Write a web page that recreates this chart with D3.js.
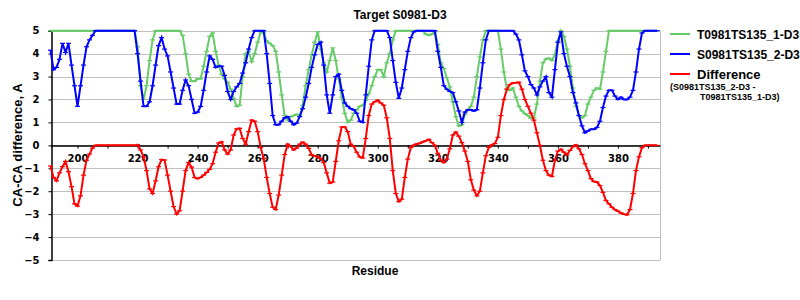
<!DOCTYPE html>
<html>
<head>
<meta charset="utf-8">
<script src="https://cdn.jsdelivr.net/npm/d3@7"></script>
<style>
  body { margin: 0; background: #fff; }
  text { font-family: "Liberation Sans", Arial, sans-serif; font-weight: bold; }
  .tick text { font-family: "DejaVu Sans", Verdana, sans-serif; font-size: 10px; fill: #000; }
</style>
</head>
<body>
<div id="chart"></div>
<script>
// residues 191..393, one value per residue
var firstResidue = 191;
var xTicks = [200, 210, 220, 230, 240, 250, 260, 270, 280, 290, 300, 310, 320, 330, 340, 350, 360, 370, 380, 390];
var xLabels = [200, 220, 240, 260, 280, 300, 320, 340, 360, 380];
var yTicks = [-5, -4, -3, -2, -1, 0, 1, 2, 3, 4, 5];

var seriesNames = ['T0981TS135_1-D3', 'S0981TS135_2-D3', 'Difference'];

// T0981TS135_1-D3 (green)
var greenValues = [
  5,5,5,5,5,5,5,5,5,5, 5,5,5,5,5,5,5,5,5,5, 5,5,5,5,5,5,5,5,5,          // 191-219
  4.3,2.6,2.0,2.6,3.7,4.6, 5,5,5,5,5,5,5,5,5,                            // 220-234
  4.8,4.0,3.1,2.8,2.8,2.9,2.9,3.45,4.1,4.75,4.9,4.1,3.5,3.1,2.9,         // 235-249
  2.75,2.45,2.05,1.7,1.75,3.0,4.0,4.1,3.65,4.0,                          // 250-259
  4.5,4.95,4.9,4.55,4.45,4.35,4.1,3.2,2.2,1.3,                           // 260-269
  1.1,1.25,1.3,1.35,1.3,1.75,2.6,3.3,3.95,4.5,                           // 270-279
  4.95,4.2,3.6,3.2,3.7,4.25,3.7,2.9,2.1,1.4,                             // 280-289
  1.0,1.1,1.4,1.55,1.7,1.75,1.95,2.25,2.6,3.0,                           // 290-299
  3.3,3.3,3.0,3.6,4.0,4.6, 5,5,5,5,5,5,5,5,5,5,                          // 300-315
  4.85,4.8,4.85,4.95,                                                    // 316-319
  4.4,3.6,3.35,2.95,2.55,1.9,1.25,0.85,0.9,1.35,                         // 320-329
  1.55,1.7,2.1,3.0,3.85,4.6, 5,5,5,5,5,                                  // 330-340
  4.2,3.2,2.45,2.4,2.5,2.1,1.7,1.5,1.38,                                 // 341-349
  1.3,1.17,1.2,1.8,2.8,3.6,3.77,3.8,3.7,3.95,                            // 350-359
  4.55,5,4.75,4.2,3.45,2.5,1.7,1.3,1.2,1.3,                              // 360-369
  1.8,2.1,2.4,2.5,2.45,3.2,4.1,                                          // 370-376
  5,5,5,5,5,5,5,5,5,5,5,5,5,5,5,5,5                                      // 377-393
];

// S0981TS135_2-D3 (blue)
var blueValues = [
  4.15,3.3,3.4,3.75,4.45,4.05,4.45,3.5,2.6,                              // 191-199
  1.7,2.6,3.5,4.3,4.6,4.8,                                               // 200-205
  5,5,5,5,5,5,5,5,5,5,5,5,5,5,                                           // 206-219
  4.0,2.8,1.7,1.7,1.9,2.6,3.5,4.35,4.7,4.2,                              // 220-229
  3.9,3.2,2.5,1.8,1.8,2.4,2.85,2.6,2.0,1.4,                              // 230-239
  1.45,1.7,2.4,3.2,3.9,3.75,3.4,3.45,3.45,3.05,                          // 240-249
  2.35,2.0,2.35,2.55,2.7,3.15,3.6,4.2,4.7,5,                             // 250-259
  5,5,5,4.0,2.7,1.3,0.9,0.9,1.05,1.2,                                    // 260-269
  1.25,1.05,0.9,0.97,1.25,1.6,2.1,2.7,3.4,3.95,                          // 270-279
  4.4,4.5,3.5,2.2,1.4,2.2,3.0,3.1,2.4,1.85,                              // 280-289
  1.7,1.6,1.55,1.4,1.05,1.0,2.2,3.45,4.6,5,                              // 290-299
  5,5,5,5,4.7,3.7,2.75,2.05,2.5,3.3,                                     // 300-309
  4.1,4.7,4.95, 5,5,5,5,5,5,5,                                           // 310-319
  4.1,3.4,2.6,2.45,2.35,2.3,1.9,1.5,1.0,1.45,                            // 320-329
  1.55,1.55,1.5,1.55,2.5,3.6,4.6, 5,5,5,                                 // 330-339
  5,5,5,5,5,5,4.85,4.6,3.95,3.25,                                        // 340-349
  3.0,2.65,2.5,2.2,2.55,2.8,3.0,2.3,2.1,3.3,                             // 350-359
  4.5,4.95,4.0,3.45,3.0,2.3,1.85,1.3,0.85,0.55,                          // 360-369
  0.63,0.7,0.7,0.78,1.05,1.65,2.15,2.4,2.4,2.15,                         // 370-379
  2.0,2.1,2.0,2.0,2.1,2.4,3.2,4.2,4.9,                                   // 380-388
  5,5,5,5,5                                                              // 389-393
];

// Difference (S0981TS135_2-D3 - T0981TS135_1-D3) (red)
var diffValues = [
  -0.9,-1.4,-1.55,-1.2,-0.93,-0.7,-1.15,-1.8,-2.55,                      // 191-199
  -2.65,-2.2,-1.3,-0.65,-0.38,-0.12,                                     // 200-205
  0,0,0,0,0,0,0,0,0,0,0,0,0,0,                                           // 206-219
  0.03,-0.2,-0.5,-1.1,-1.9,-2.1,-1.55,-0.93,-0.62,-0.64,                 // 220-229
  -1.3,-2.0,-2.67,-3.0,-2.85,-2.0,-1.1,-0.75,-0.95,-1.4,                 // 230-239
  -1.45,-1.4,-1.3,-1.18,-1.05,-0.8,-0.3,0.1,0.15,-0.2,                   // 240-249
  -0.38,-0.2,0.45,0.72,0.74,0.3,0.05,0.6,1.1,1.05,                       // 250-259
  0.6,-0.1,-0.57,-1.4,-2.1,-2.7,-2.8,-2.17,-1.3,-0.4,                    // 260-269
  0.05,-0.05,-0.2,-0.12,0.05,0.14,0.05,-0.13,-0.42,-0.46,                // 270-279
  -0.5,-0.57,-0.75,-1.2,-1.65,-1.6,-0.7,0.2,0.8,0.8,                     // 280-289
  0.6,0.05,-0.05,-0.3,-0.5,-0.55,0.3,1.3,1.8,1.9,                        // 290-299
  1.97,1.85,1.75,1.2,0.3,-1.1,-2.1,-2.45,-2.35,-1.4,                     // 300-309
  -0.6,-0.1,0.01,0.06,0.09,0.15,0.2,0.26,0.12,0,                         // 310-319
  -0.35,-0.65,-0.75,-0.6,-0.15,0.45,0.58,0.4,0.12,-0.25,                 // 320-329
  -0.7,-1.5,-1.95,-2.2,-2.0,-1.2,-0.45,-0.09,0.02,0.08,                  // 330-339
  0.35,1.3,2.0,2.45,2.65,2.72,2.73,2.75,2.45,2.0,                        // 340-349
  1.7,1.4,1.1,0.55,0,-0.65,-1.1,-1.3,-1.35,-0.65,                        // 350-359
  -0.25,-0.17,-0.3,-0.42,-0.22,-0.06,0.02,-0.15,-0.4,-0.8,               // 360-369
  -1.1,-1.45,-1.58,-1.6,-1.75,-2.05,-2.4,-2.55,-2.7,-2.8,                // 370-379
  -2.87,-2.95,-3.0,-3.03,-2.8,-2.1,-1.1,-0.5,-0.1,                       // 380-388
  0,0,0,0,0                                                              // 389-393
];

var colors = ['#66cc66', '#0000ff', '#ff0000'];

var width = 800, height = 300;
var plot = { left: 50.5, right: 660, top: 30.7, bottom: 260 };

var svg = d3.select('#chart').append('svg')
    .attr('width', width)
    .attr('height', height);

var x = d3.scaleLinear().domain([191, 394]).range([plot.left, plot.right]);
var y = d3.scaleLinear().domain([-5, 5]).range([plot.bottom, plot.top]);

// gridlines
svg.append('g').selectAll('line')
    .data(yTicks)
    .enter().append('line')
    .attr('x1', plot.left).attr('x2', plot.right)
    .attr('y1', function (d) { return Math.round(y(d)) + 0.5; })
    .attr('y2', function (d) { return Math.round(y(d)) + 0.5; })
    .attr('stroke', '#c0c0c0').attr('stroke-width', 1);

// right border
svg.append('line')
    .attr('x1', plot.right + 0.5).attr('x2', plot.right + 0.5)
    .attr('y1', plot.top).attr('y2', plot.bottom)
    .attr('stroke', '#c0c0c0');

// y axis
var yAxis = d3.axisLeft(y)
    .tickValues(yTicks)
    .tickSize(3)
    .tickFormat(function (d) { return d < 0 ? '\u2212' + Math.abs(d) : d; });
var gy = svg.append('g')
    .attr('transform', 'translate(' + (Math.round(plot.left) + 0.5) + ',0)')
    .call(yAxis);
gy.select('.domain').attr('stroke', '#000').attr('stroke-width', 1.5);
gy.selectAll('.tick text').attr('x', -12);

// x axis at zero
var xAxis = d3.axisBottom(x)
    .tickValues(xTicks)
    .tickSize(3)
    .tickSizeOuter(0)
    .tickFormat(function (d) { return xLabels.indexOf(d) >= 0 ? d : ''; });
var gx = svg.append('g')
    .attr('transform', 'translate(0,' + (Math.round(y(0)) + 0.5) + ')')
    .call(xAxis);
gx.select('.domain').attr('stroke', '#000').attr('stroke-width', 1.5);
gx.selectAll('.tick text').attr('y', 9);

// series
var allSeries = [greenValues, blueValues, diffValues];
var line = d3.line()
    .x(function (d, i) { return x(firstResidue + i); })
    .y(function (d) { return y(d); });

allSeries.forEach(function (vals, s) {
    svg.append('path')
        .datum(vals)
        .attr('fill', 'none')
        .attr('stroke', colors[s])
        .attr('stroke-width', 2)
        .attr('d', line);

    // dash markers
    svg.append('g').selectAll('line')
        .data(vals)
        .enter().append('line')
        .attr('x1', function (d, i) { return x(firstResidue + i) - 2.5; })
        .attr('x2', function (d, i) { return x(firstResidue + i) + 2.5; })
        .attr('y1', function (d) { return y(d); })
        .attr('y2', function (d) { return y(d); })
        .attr('stroke', colors[s])
        .attr('stroke-width', 1.2);
});

// title and axis labels
svg.append('text')
    .attr('x', 400).attr('y', 19)
    .attr('text-anchor', 'middle')
    .style('font-size', '12px')
    .text('Target S0981-D3');

svg.append('text')
    .attr('x', 375).attr('y', 275)
    .attr('text-anchor', 'middle')
    .style('font-size', '12px')
    .text('Residue');

svg.append('text')
    .attr('transform', 'translate(22,145) rotate(-90)')
    .attr('text-anchor', 'middle')
    .style('font-size', '13px')
    .text('CA-CA difference, A');

// legend
var legendY = [34, 54, 74];
var legend = svg.append('g');
seriesNames.forEach(function (name, i) {
    legend.append('line')
        .attr('x1', 670).attr('x2', 690)
        .attr('y1', legendY[i]).attr('y2', legendY[i])
        .attr('stroke', colors[i]).attr('stroke-width', 2);
    legend.append('text')
        .attr('x', 697).attr('y', legendY[i] + 4.5)
        .style('font-size', i === 2 ? '13px' : '12px')
        .text(name);
});
legend.append('text')
    .attr('x', 670).attr('y', 90)
    .style('font-size', '9px')
    .text('(S0981TS135_2-D3 -');
legend.append('text')
    .attr('x', 700).attr('y', 100)
    .style('font-size', '9px')
    .text('T0981TS135_1-D3)');
</script>
</body>
</html>
